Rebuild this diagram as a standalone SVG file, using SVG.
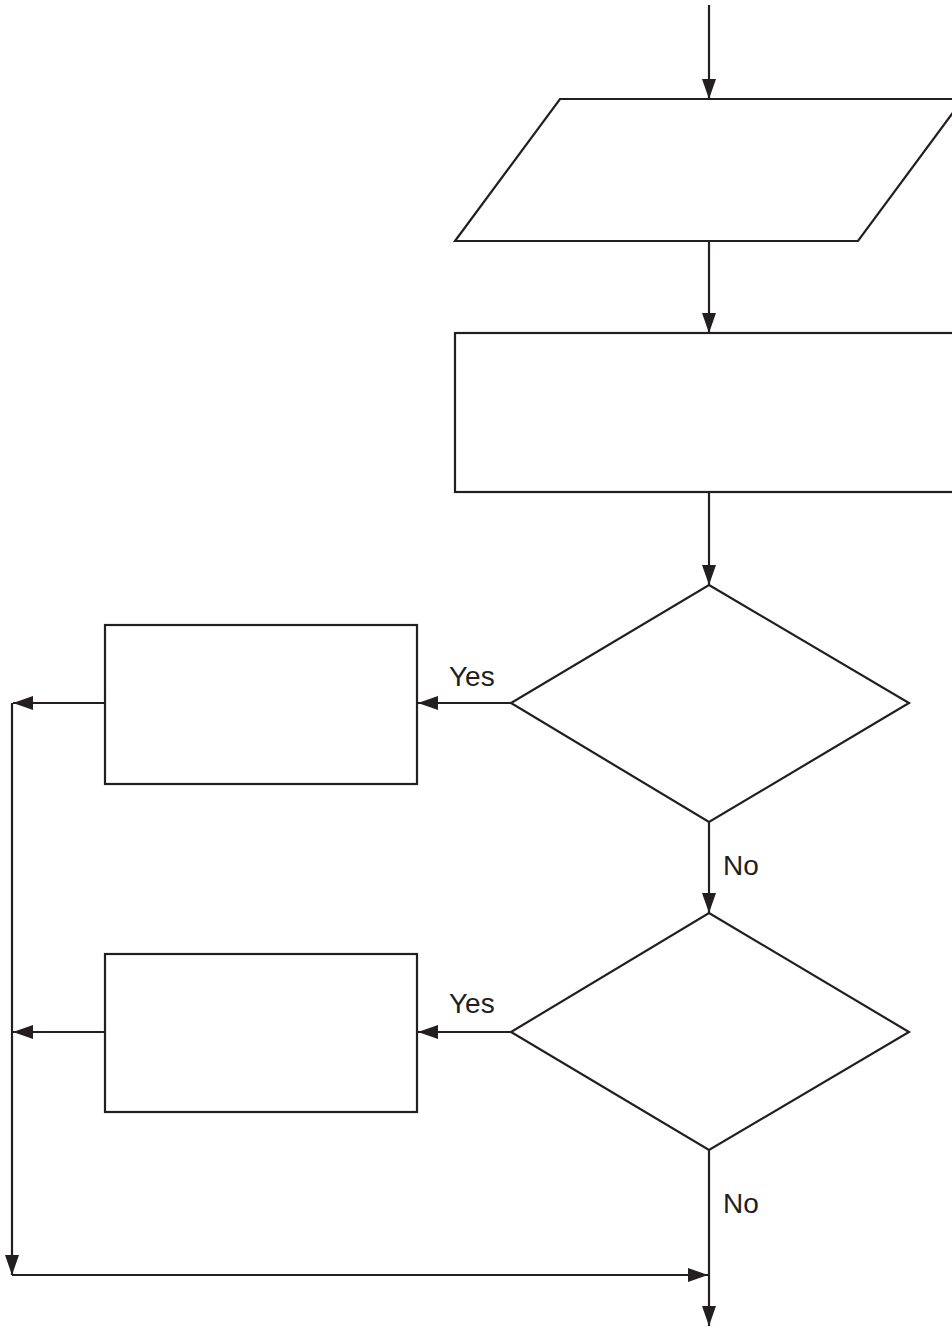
<svg xmlns="http://www.w3.org/2000/svg" width="952" height="1328" viewBox="0 0 952 1328">
<style>
.s{fill:none;stroke:#231f20;stroke-width:2.2}
.n{fill:#fff;stroke:#231f20;stroke-width:2.2}
.t{font-family:"Liberation Sans",Arial,sans-serif;font-size:28px;fill:#231f20}
</style>
<defs>
<marker id="a" markerUnits="userSpaceOnUse" markerWidth="22" markerHeight="14" refX="20" refY="7" orient="auto">
<path d="M0,0 L20,7 L0,14 Z" fill="#231f20"/>
</marker>
</defs>
<rect width="952" height="1328" fill="#fff"/>
<g id="connectors">
<line class="s" x1="709" y1="5" x2="709" y2="99" marker-end="url(#a)"/>
<line class="s" x1="709" y1="241" x2="709" y2="333" marker-end="url(#a)"/>
<line class="s" x1="709" y1="492" x2="709" y2="585" marker-end="url(#a)"/>
<line class="s" x1="709" y1="822" x2="709" y2="913" marker-end="url(#a)"/>
<line class="s" x1="511" y1="703" x2="418" y2="703" marker-end="url(#a)"/>
<line class="s" x1="511" y1="1032" x2="418" y2="1032" marker-end="url(#a)"/>
<line class="s" x1="105" y1="703" x2="13" y2="703" marker-end="url(#a)"/>
<line class="s" x1="105" y1="1032" x2="13" y2="1032" marker-end="url(#a)"/>
<line class="s" x1="12" y1="703" x2="12" y2="1275" marker-end="url(#a)"/>
<line class="s" x1="12" y1="1275" x2="708" y2="1275" marker-end="url(#a)"/>
<line class="s" x1="709" y1="1150" x2="709" y2="1326" marker-end="url(#a)"/>
<text class="t" x="449" y="686">Yes</text>
<text class="t" x="449" y="1013">Yes</text>
<text class="t" x="723" y="875">No</text>
<text class="t" x="723" y="1213">No</text>
</g>
<g id="input">
<polygon class="n" points="560,99 963,99 858,241 455,241"/>
</g>
<g id="process">
<rect class="n" x="455" y="333" width="510" height="159"/>
</g>
<g id="decision1">
<polygon class="n" points="709,585 909,703 709,822 511,703"/>
</g>
<g id="decision2">
<polygon class="n" points="709,913 909,1032 709,1150 511,1032"/>
</g>
<g id="box1">
<rect class="n" x="105" y="625" width="312" height="159"/>
</g>
<g id="box2">
<rect class="n" x="105" y="954" width="312" height="158"/>
</g>
</svg>
